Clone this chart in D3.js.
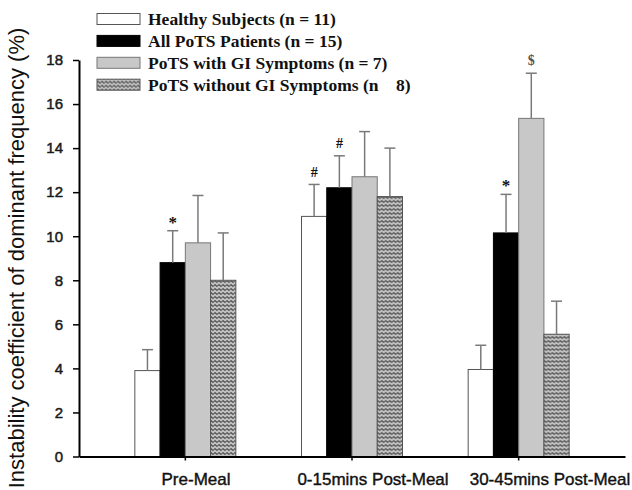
<!DOCTYPE html>
<html>
<head>
<meta charset="utf-8">
<script src="https://cdnjs.cloudflare.com/ajax/libs/d3/7.8.5/d3.min.js"></script>
<style>
  body { margin: 0; background: #fff; }
  svg { display: block; }
</style>
</head>
<body>
<svg id="chart" width="632" height="490"></svg>
<script>
// data
var categories = ["Pre-Meal", "0-15mins Post-Meal", "30-45mins Post-Meal"];
var series = ["healthy", "all", "withGI", "withoutGI"];
var seriesLabels = [
  "Healthy Subjects (n = 11)",
  "All PoTS Patients (n = 15)",
  "PoTS with GI Symptoms (n = 7)",
  "PoTS without GI Symptoms (n    8)"
];
var healthyMean = [3.9, 10.9, 3.95];
var healthyErr = [0.95, 1.45, 1.1];
var allMean = [8.8, 12.2, 10.15];
var allErr = [1.45, 1.45, 1.75];
var withGIMean = [9.7, 12.7, 15.35];
var withGIErr = [2.15, 2.05, 2.05];
var withoutGIMean = [8.0, 11.8, 5.55];
var withoutGIErr = [2.15, 2.2, 1.5];
var yTicks = [0, 2, 4, 6, 8, 10, 12, 14, 16, 18];
// significance marks: [category index, series index, symbol]
var marks = [
  [0, 1, "*"],
  [1, 0, "#"],
  [1, 1, "#"],
  [2, 1, "*"],
  [2, 2, "$"]
];

var means = [healthyMean, allMean, withGIMean, withoutGIMean];
var errs = [healthyErr, allErr, withGIErr, withoutGIErr];

var svg = d3.select("#chart");

// hatch pattern for the last series
var defs = svg.append("defs");
var pat = defs
  .append("pattern")
  .attr("id", "wavy")
  .attr("patternUnits", "userSpaceOnUse")
  .attr("width", 4)
  .attr("height", 4);
pat.append("rect").attr("width", 4).attr("height", 4).attr("fill", "#bfbfbf");
pat
  .append("path")
  .attr("d", "M0,1.5 Q1,0 2,1.5 T4,1.5")
  .attr("fill", "none")
  .attr("stroke", "#333")
  .attr("stroke-width", 1.1);

var fills = ["#fff", "#000", "#c8c8c8", "url(#wavy)"];
var strokes = ["#555", "#000", "#777", "#555"];

var x0 = d3
  .scaleBand()
  .domain(categories)
  .range([79, 625])
  .paddingInner(0)
  .paddingOuter(0.138);
var bw = x0.bandwidth();
var x1 = d3
  .scaleBand()
  .domain(series)
  .range([bw * 0.197, bw * 0.803]);
var y = d3.scaleLinear().domain([0, 18]).range([456.5, 60]);

// bars
var groups = svg
  .append("g")
  .attr("class", "bars")
  .selectAll("g")
  .data(categories)
  .enter()
  .append("g")
  .attr("transform", function (d) {
    return "translate(" + x0(d) + ",0)";
  });

series.forEach(function (s, si) {
  groups
    .append("rect")
    .attr("x", function (d, ci) {
      return x1(s);
    })
    .attr("y", function (d, ci) {
      return y(means[si][ci]);
    })
    .attr("width", x1.bandwidth())
    .attr("height", function (d, ci) {
      return y(0) - y(means[si][ci]);
    })
    .attr("fill", fills[si])
    .attr("stroke", strokes[si])
    .attr("stroke-width", 1);
});

// error bars (upper only)
series.forEach(function (s, si) {
  var cx = x1(s) + x1.bandwidth() / 2;
  groups
    .append("line")
    .attr("x1", cx)
    .attr("x2", cx)
    .attr("y1", function (d, ci) {
      return y(means[si][ci]);
    })
    .attr("y2", function (d, ci) {
      return y(means[si][ci] + errs[si][ci]);
    })
    .attr("stroke", "#7a7a7a")
    .attr("stroke-width", 1.5);
  groups
    .append("line")
    .attr("x1", cx - 5.5)
    .attr("x2", cx + 5.5)
    .attr("y1", function (d, ci) {
      return y(means[si][ci] + errs[si][ci]);
    })
    .attr("y2", function (d, ci) {
      return y(means[si][ci] + errs[si][ci]);
    })
    .attr("stroke", "#7a7a7a")
    .attr("stroke-width", 1.5);
});

// significance symbols
svg
  .append("g")
  .selectAll("text")
  .data(marks)
  .enter()
  .append("text")
  .attr("x", function (d) {
    return x0(categories[d[0]]) + x1(series[d[1]]) + x1.bandwidth() / 2;
  })
  .attr("y", function (d) {
    return y(means[d[1]][d[0]] + errs[d[1]][d[0]]) - 11;
  })
  .attr("text-anchor", "middle")
  .attr("dominant-baseline", "middle")
  .attr("font-family", "Liberation Serif, serif")
  .attr("font-weight", "bold")
  .attr("font-size", function (d) {
    return d[2] == "*" ? 17 : 14;
  })
  .attr("fill", function (d) {
    return d[2] == "$" ? "#555" : "#111";
  })
  .attr("dy", function (d) {
    return d[2] == "*" ? 4 : 0;
  })
  .text(function (d) {
    return d[2];
  });

// y axis
var yAxis = svg
  .append("g")
  .attr("transform", "translate(79,0)")
  .call(d3.axisLeft(y).tickValues(yTicks).tickSize(6).tickPadding(10).tickSizeOuter(0));
yAxis.select(".domain").attr("stroke", "#000").attr("stroke-width", 2);
yAxis.selectAll(".tick line").attr("stroke", "#000").attr("stroke-width", 1.5);
yAxis
  .selectAll(".tick text")
  .attr("font-family", "Liberation Sans, Arial, sans-serif")
  .attr("font-size", 15)
  .attr("fill", "#1a1a1a")
  .attr("stroke", "#1a1a1a")
  .attr("stroke-width", 0.5);

// x axis
var xAxis = svg
  .append("g")
  .attr("transform", "translate(0," + y(0) + ")")
  .call(d3.axisBottom(x0).tickSize(4).tickSizeOuter(0).tickFormat(""));
xAxis.select(".domain").attr("stroke", "#000").attr("stroke-width", 2);
xAxis.selectAll(".tick line").attr("stroke", "#000").attr("stroke-width", 1.5);

// category labels sit a little right of the ticks in the original
var xLab = d3.scalePoint().domain(categories).range([196, 550]);
svg
  .append("g")
  .selectAll("text")
  .data(categories)
  .enter()
  .append("text")
  .attr("x", function (d) {
    return xLab(d);
  })
  .attr("y", 485)
  .attr("text-anchor", "middle")
  .attr("font-family", "Liberation Sans, Arial, sans-serif")
  .attr("font-size", 17)
  .attr("fill", "#111")
  .attr("stroke", "#111")
  .attr("stroke-width", 0.4)
  .text(function (d) {
    return d;
  });

// y axis title
svg
  .append("text")
  .attr("transform", "translate(24,258) rotate(-90)")
  .attr("text-anchor", "middle")
  .attr("font-family", "Liberation Sans, Arial, sans-serif")
  .attr("font-size", 22)
  .attr("fill", "#111")
  .text("Instability coefficient of dominant frequency (%)");

// legend
var legend = svg
  .append("g")
  .attr("class", "legend")
  .selectAll("g")
  .data(seriesLabels)
  .enter()
  .append("g")
  .attr("transform", function (d, i) {
    return "translate(97," + (19 + i * 21.9) + ")";
  });
legend
  .append("rect")
  .attr("x", 0)
  .attr("y", -5.5)
  .attr("width", 43)
  .attr("height", 11)
  .attr("fill", function (d, i) {
    return fills[i];
  })
  .attr("stroke", function (d, i) {
    return strokes[i];
  })
  .attr("stroke-width", 1);
legend
  .append("text")
  .attr("x", 51)
  .attr("y", 0)
  .attr("dy", "0.35em")
  .attr("font-family", "Liberation Serif, Times New Roman, serif")
  .attr("font-weight", "bold")
  .attr("font-size", 17.5)
  .attr("fill", "#111")
  .style("white-space", "pre")
  .text(function (d) {
    return d;
  });
</script>
</body>
</html>
